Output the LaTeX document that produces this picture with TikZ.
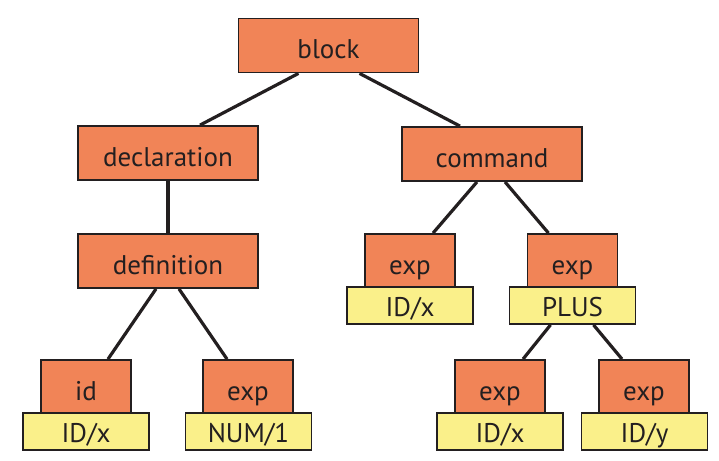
\documentclass[tikz,border=0pt]{standalone}
\usepackage{fontspec}
\setmainfont{PT Sans}
\usetikzlibrary{backgrounds}
\definecolor{boxorange}{HTML}{F18457}
\definecolor{boxyellow}{HTML}{FAF08A}
\definecolor{inkdark}{HTML}{231F20}
\tikzset{
  base/.style={draw=inkdark, line width=1.8pt, inner sep=0pt, font=\fontsize{27}{30}\selectfont, text=inkdark},
  bigbox/.style={base, fill=boxorange, minimum width=180pt, text height=40pt, text depth=14pt},
  smallbox/.style={base, fill=boxorange, minimum width=90pt, text height=40.5pt, text depth=12.5pt},
  leafbox/.style={base, fill=boxyellow, minimum width=126pt, text height=29.5pt, text depth=7.5pt},
  edge/.style={draw=inkdark, line width=3.2pt}
}
\begin{document}
\begin{tikzpicture}[x=1pt,y=-1pt]
\useasboundingbox (0,0) rectangle (719,460);
% top levels
\node[bigbox] (block) at (328.5,45.5) {block};
\node[bigbox] (decl) at (168,153) {declaration};
\node[bigbox] (cmd) at (492,154) {command};
\node[bigbox] (def) at (168,261) {definition};
% middle right
\node[smallbox] (expA) at (410,260.5) {exp};
\node[leafbox] (idA) at (410,305.5) {ID/x};
\node[smallbox] (expB) at (572.5,260.5) {exp};
\node[leafbox] (plus) at (572.5,305.5) {PLUS};
% bottom
\node[smallbox] (idn) at (86,386.5) {id};
\node[leafbox] (idB) at (86,431.5) {ID/x};
\node[smallbox] (expC) at (248,386.5) {exp};
\node[leafbox] (num) at (248.5,431.5) {NUM/1};
\node[smallbox] (expD) at (500,386.5) {exp};
\node[leafbox] (idC) at (500,431.5) {ID/x};
\node[smallbox] (expE) at (644,386.5) {exp};
\node[leafbox] (idD) at (644.5,431.5) {ID/y};
\begin{scope}[on background layer]
\draw[edge] ([xshift=-30pt]block.south) -- ([xshift=32pt]decl.north);
\draw[edge] ([xshift=31pt]block.south) -- ([xshift=-32pt]cmd.north);
\draw[edge] (decl.south) -- (def.north);
\draw[edge] ([xshift=-15pt]cmd.south) -- ([xshift=23pt]expA.north);
\draw[edge] ([xshift=13pt]cmd.south) -- ([xshift=-24pt]expB.north);
\draw[edge] ([xshift=-12pt]def.south) -- ([xshift=22pt]idn.north);
\draw[edge] ([xshift=11pt]def.south) -- ([xshift=-21pt]expC.north);
\draw[edge] ([xshift=-22pt]plus.south) -- ([xshift=23pt]expD.north);
\draw[edge] ([xshift=21pt]plus.south) -- ([xshift=-22pt]expE.north);
\end{scope}
\end{tikzpicture}
\end{document}
